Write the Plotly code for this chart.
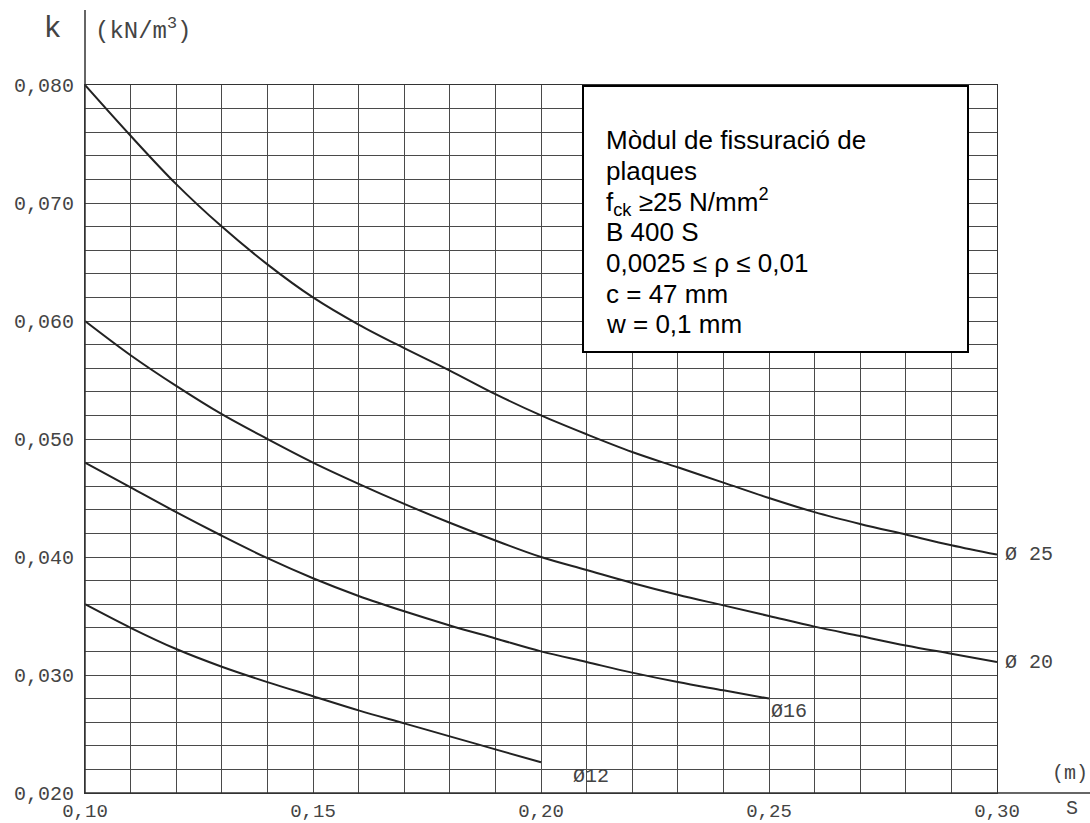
import plotly.graph_objects as go

# ---- data ----
s_25 = [0.10, 0.11, 0.12, 0.13, 0.14, 0.15, 0.16, 0.17, 0.18, 0.19, 0.20,
        0.21, 0.22, 0.23, 0.24, 0.25, 0.26, 0.27, 0.28, 0.29, 0.30]
k_25 = [0.0800, 0.0757, 0.0716, 0.0680, 0.0648, 0.0620, 0.0597, 0.0577, 0.0558, 0.0538, 0.0520,
        0.0504, 0.0489, 0.0476, 0.0463, 0.0450, 0.0438, 0.0428, 0.0419, 0.0410, 0.0402]

s_20 = s_25
k_20 = [0.0600, 0.0571, 0.0545, 0.0521, 0.0500, 0.0480, 0.0462, 0.0445, 0.0429, 0.0414, 0.0400,
        0.0389, 0.0378, 0.0368, 0.0359, 0.0350, 0.0341, 0.0333, 0.0325, 0.0318, 0.0311]

s_16 = [0.10, 0.11, 0.12, 0.13, 0.14, 0.15, 0.16, 0.17, 0.18, 0.19, 0.20,
        0.21, 0.22, 0.23, 0.24, 0.25]
k_16 = [0.0480, 0.0459, 0.0438, 0.0418, 0.0399, 0.0382, 0.0367, 0.0354, 0.0342, 0.0331, 0.0320,
        0.0311, 0.0302, 0.0294, 0.0287, 0.0280]

s_12 = [0.10, 0.11, 0.12, 0.13, 0.14, 0.15, 0.16, 0.17, 0.18, 0.19, 0.20]
k_12 = [0.0360, 0.0340, 0.0322, 0.0307, 0.0294, 0.0282, 0.0270, 0.0259, 0.0248, 0.0237, 0.0226]

series = [("Ø 25", s_25, k_25), ("Ø 20", s_20, k_20), ("Ø16", s_16, k_16), ("Ø12", s_12, k_12)]

x_grid = [round(0.10 + 0.01 * i, 2) for i in range(21)]
x_labels = {0.10: "0,10", 0.15: "0,15", 0.20: "0,20", 0.25: "0,25", 0.30: "0,30"}
y_grid = [round(0.020 + 0.002 * i, 3) for i in range(31)]
y_labels = {0.020: "0,020", 0.030: "0,030", 0.040: "0,040", 0.050: "0,050",
            0.060: "0,060", 0.070: "0,070", 0.080: "0,080"}

info_lines = ["Mòdul de fissuració de", "plaques", "f<sub>ck</sub> ≥25 N/mm<sup>2</sup>",
              "B 400 S", "0,0025 ≤ ρ ≤ 0,01", "c = 47 mm", "w = 0,1 mm"]

# ---- layout geometry ----
W, H = 1090, 823
L, R, T, B = 85, 93, 85, 30


def px(x):
    return (x - L) / (W - L - R)


def py(y):
    return (H - B - y) / (H - T - B)


LBL_FONT = dict(family="Liberation Mono", size=20, color="#444444")
XT_FONT = dict(family="Liberation Mono", size=19, color="#444444")

fig = go.Figure()
for name, s, k in series:
    fig.add_trace(go.Scatter(x=s, y=k, mode="lines", name=name,
                             line=dict(color="#222222", width=2, shape="spline"),
                             showlegend=False, hoverinfo="x+y"))

# curve end labels
label_offsets = {"Ø 25": (6, 0), "Ø 20": (6, 0), "Ø16": (0, -13), "Ø12": (30, -14)}
for name, s, k in series:
    dx, dy = label_offsets[name]
    fig.add_annotation(x=s[-1], y=k[-1], xref="x", yref="y", text=name,
                       showarrow=False, xanchor="left", yanchor="middle",
                       xshift=dx, yshift=dy, font=LBL_FONT)

fig.update_xaxes(range=[0.10, 0.30], tickmode="array", tickvals=x_grid,
                 ticktext=[x_labels.get(v, "") for v in x_grid],
                 showgrid=True, gridcolor="#4a4a4a", gridwidth=1, zeroline=False,
                 showline=True, mirror=True, linecolor="#333333", linewidth=1,
                 ticks="", tickfont=XT_FONT, ticklabelstandoff=0, automargin=False)
fig.update_yaxes(range=[0.020, 0.080], tickmode="array", tickvals=y_grid,
                 ticktext=[y_labels.get(v, "") for v in y_grid],
                 showgrid=True, gridcolor="#4a4a4a", gridwidth=1, zeroline=False,
                 showline=True, mirror=True, linecolor="#333333", linewidth=1,
                 ticks="", tickfont=LBL_FONT, ticklabelstandoff=6, automargin=False)

shapes = [
    # extended axis lines
    dict(type="line", xref="paper", yref="paper", x0=px(85), x1=px(85), y0=py(793), y1=py(10),
         line=dict(color="#333333", width=1.5)),
    dict(type="line", xref="paper", yref="paper", x0=px(85), x1=px(1090), y0=py(793), y1=py(793),
         line=dict(color="#333333", width=1.5)),
    # info box
    dict(type="rect", xref="paper", yref="paper", x0=px(583), x1=px(968), y0=py(352), y1=py(86),
         line=dict(color="black", width=2), fillcolor="white"),
]
fig.update_layout(shapes=shapes)

line_y = [140, 171, 202, 232, 263, 294, 324]
for txt, yy in zip(info_lines, line_y):
    fig.add_annotation(x=px(604), y=py(yy), xref="paper", yref="paper", text=txt,
                       showarrow=False, xanchor="left", yanchor="middle",
                       font=dict(family="Liberation Sans", size=26, color="black"))

# axis titles
fig.add_annotation(x=px(53), y=py(26), xref="paper", yref="paper", text="k", showarrow=False,
                   xanchor="center", yanchor="middle",
                   font=dict(family="Liberation Sans", size=30, color="#444444"))
fig.add_annotation(x=px(93), y=py(30), xref="paper", yref="paper", text="(kN/m<sup>3</sup>)",
                   showarrow=False, xanchor="left", yanchor="middle",
                   font=dict(family="Liberation Mono", size=24, color="#444444"))
fig.add_annotation(x=px(1070), y=py(773), xref="paper", yref="paper", text="(m)",
                   showarrow=False, xanchor="center", yanchor="middle", font=LBL_FONT)
fig.add_annotation(x=px(1072), y=py(808), xref="paper", yref="paper", text="S",
                   showarrow=False, xanchor="center", yanchor="middle", font=LBL_FONT)

fig.update_layout(width=W, height=H,
                  margin=dict(l=L, r=R, t=T, b=B, autoexpand=False),
                  plot_bgcolor="white", paper_bgcolor="white")

fig.write_html("out.html", config={"displayModeBar": False},
               post_script="document.body.style.margin='0';document.body.style.overflow='hidden';")
